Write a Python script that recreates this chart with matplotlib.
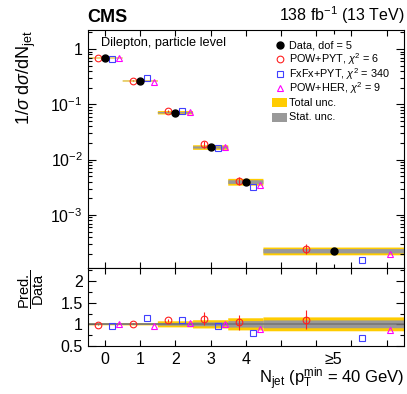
import numpy as np
import matplotlib
matplotlib.use('Agg')
import matplotlib.pyplot as plt
from matplotlib.patches import Rectangle
from matplotlib.ticker import FixedLocator, FuncFormatter, LogLocator, MultipleLocator, NullFormatter

plt.rcParams['font.family'] = ['Liberation Sans', 'DejaVu Sans']
plt.rcParams['mathtext.fontset'] = 'custom'
plt.rcParams['mathtext.rm'] = 'Liberation Sans'
plt.rcParams['mathtext.it'] = 'Liberation Sans:italic'
plt.rcParams['mathtext.bf'] = 'Liberation Sans:bold'

# bins of N_jet (last one is >=5)
binEdges = [-0.5, 0.5, 1.5, 2.5, 3.5, 4.5, 8.5]
tickLabels = ['0', '1', '2', '3', '4', '', '', '', '']

# normalised cross sections
dataVals = [0.687, 0.264, 0.0705, 0.0166, 0.00394, 0.000222]
powPytVals = [0.680, 0.269, 0.0768, 0.0188, 0.00414, 0.000246]
fxfxPytVals = [0.653, 0.304, 0.0768, 0.0159, 0.00315, 0.000151]
powHerVals = [0.694, 0.256, 0.0726, 0.0169, 0.00351, 0.000195]

# relative uncertainties
totUnc = [0.022, 0.024, 0.07, 0.095, 0.14, 0.16]
statUnc = [0.008, 0.009, 0.03, 0.045, 0.075, 0.09]
powPytErr = [0.01, 0.015, 0.04, 0.15, 0.17, 0.22]

edges = np.array(binEdges)
centers = 0.5 * (edges[1:] + edges[:-1])
widths = edges[1:] - edges[:-1]
data = np.array(dataVals)
tot = np.array(totUnc)
stat = np.array(statUnc)

yellow = '#ffcc00'
grey = '#999999'
models = [
    (powPytVals, -0.2, 'o', '#ff2020', r'POW+PYT, $\chi^{2}$ = 6'),
    (fxfxPytVals, 0.2, 's', '#4040ff', r'FxFx+PYT, $\chi^{2}$ = 340'),
    (powHerVals, 0.4, '^', '#ff00ff', r'POW+HER, $\chi^{2}$ = 9'),
]

fig = plt.figure(figsize=(4.07, 3.94), dpi=100)
ax = fig.add_axes([0.215, 0.3198, 0.778, 0.604])
ax2 = fig.add_axes([0.215, 0.1218, 0.778, 0.198], sharex=ax)

# upper panel
ax.bar(centers, data * 2 * tot, bottom=data * (1 - tot), width=widths, color=yellow, lw=0, snap=False)
ax.bar(centers, data * 2 * stat, bottom=data * (1 - stat), width=widths, color=grey, lw=0, snap=False)
for vals, off, mk, col, lab in models:
    vals = np.array(vals)
    xs = centers + off * widths
    if mk == 'o':
        ax.errorbar(xs, vals, yerr=data * np.array(powPytErr), fmt='none', ecolor=col, lw=0.8)
    ax.plot(xs, vals, ls='none', marker=mk, mfc='none', mec=col, ms=4.8, mew=0.8)
ax.plot(centers, data, ls='none', marker='o', color='black', ms=5)

ax.set_yscale('log')
ax.set_ylim(1.1e-4, 2.2)
ax.set_xlim(-0.5, 8.5)
ax.yaxis.set_major_locator(LogLocator(base=10, numticks=10))
ax.yaxis.set_minor_locator(LogLocator(base=10, subs=np.arange(2, 10), numticks=20))
ax.yaxis.set_minor_formatter(NullFormatter())
ax.yaxis.set_major_formatter(FuncFormatter(
    lambda v, p: '1' if abs(v - 1) < 1e-9 else r'$10^{%d}$' % int(round(np.log10(v)))))
ax.set_ylabel(r'1/$\sigma$ d$\sigma$/dN$_{\rm jet}$', fontsize=13, loc='top')
ax.yaxis.set_label_coords(-0.155, 1.0)
ax.tick_params(axis='x', labelbottom=False)

ax.text(0.043, 0.945, 'Dilepton, particle level', transform=ax.transAxes, fontsize=9.2, va='center')
ax.text(0.0, 1.015, 'CMS', transform=ax.transAxes, fontsize=13, fontweight='bold', va='bottom')
ax.text(1.0, 1.015, r'138 fb$^{-1}$ (13 TeV)', transform=ax.transAxes, fontsize=11.5, va='bottom', ha='right')

# legend, one row every 14.4 px
legX = (279.5 - 87.5) / 316.5
txtX = (289 - 87.5) / 316.5
rowY = [(268 - (45 + 14.4 * i)) / 238 for i in range(6)]
ax.plot(legX, rowY[0], transform=ax.transAxes, marker='o', color='black', ms=5, clip_on=False)
ax.text(txtX, rowY[0], 'Data, dof = 5', transform=ax.transAxes, fontsize=7.8, va='center')
for i, (vals, off, mk, col, lab) in enumerate(models):
    ax.plot(legX, rowY[i + 1], transform=ax.transAxes, marker=mk, mfc='none', mec=col, ms=4.8, mew=0.8)
    ax.text(txtX, rowY[i + 1], lab, transform=ax.transAxes, fontsize=7.8, va='center')
for i, (col, lab) in enumerate([(yellow, 'Total unc.'), (grey, 'Stat. unc.')]):
    ax.add_patch(Rectangle(((272 - 87.5) / 316.5, rowY[i + 4] - 4.5 / 238), 15 / 316.5, 9 / 238,
                           transform=ax.transAxes, color=col, lw=0))
    ax.text(txtX, rowY[i + 4], lab, transform=ax.transAxes, fontsize=7.8, va='center')

# ratio panel
ax2.bar(centers, 2 * tot, bottom=1 - tot, width=widths, color=yellow, lw=0, snap=False)
ax2.bar(centers, 2 * stat, bottom=1 - stat, width=widths, color=grey, lw=0, snap=False)
ax2.axhline(1, color='#777777', lw=1.2)
for vals, off, mk, col, lab in models:
    ratio = np.array(vals) / data
    xs = centers + off * widths
    if mk == 'o':
        ax2.errorbar(xs, ratio, yerr=powPytErr, fmt='none', ecolor=col, lw=0.8)
    ax2.plot(xs, ratio, ls='none', marker=mk, mfc='none', mec=col, ms=4.8, mew=0.8)

ax2.set_ylim(0.5, 2.3)
ax2.yaxis.set_major_locator(FixedLocator([0.5, 1, 1.5, 2]))
ax2.yaxis.set_major_formatter(FuncFormatter(lambda v, p: '%g' % v))
ax2.yaxis.set_minor_locator(MultipleLocator(0.25))
ax2.set_ylabel(r'$\dfrac{\mathrm{Pred.}}{\mathrm{Data}}$', fontsize=10.5)
ax2.yaxis.set_label_coords(-0.13, 0.73)

ax2.set_xticks(range(9))
ax2.set_xticklabels(tickLabels)
ax2.set_xticks([6.5], ['\u22655'], minor=True)
ax2.set_xlabel(r'N$_{\rm jet}$ (p$_{\rm T}^{\rm min}$ = 40 GeV)', fontsize=12, loc='right')
ax2.xaxis.set_label_coords(1.0, -0.25)

for a in (ax, ax2):
    a.tick_params(which='both', direction='in', top=True, right=True, labelsize=11.5)
    a.tick_params(which='major', length=6, width=0.8)
    a.tick_params(which='minor', length=3, width=0.8)
    a.tick_params(axis='x', which='major', length=4)
    for s in a.spines.values():
        s.set_linewidth(0.8)
ax2.tick_params(axis='x', which='minor', length=0)
ax2.tick_params(axis='x', which='both', pad=4)

fig.savefig('out.png', dpi=100)
